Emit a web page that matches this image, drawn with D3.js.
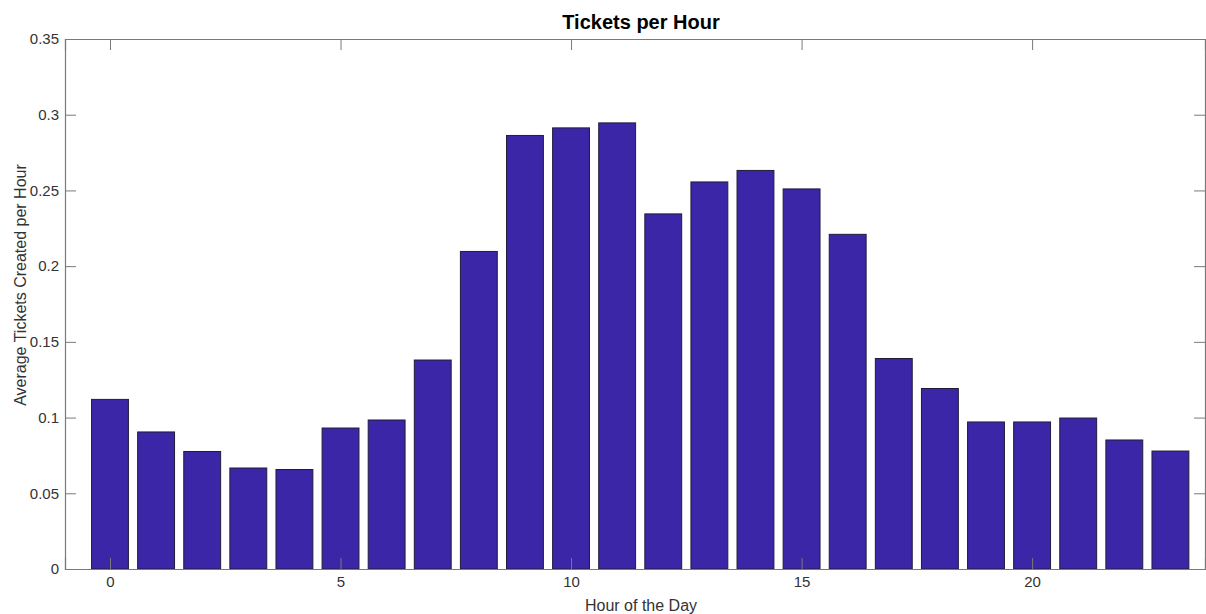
<!DOCTYPE html>
<html>
<head>
<meta charset="utf-8">
<script src="https://cdn.jsdelivr.net/npm/d3@7"></script>
<style>
  body { margin: 0; background: #fff; }
  svg text { font-family: "Liberation Sans", Arial, Helvetica, sans-serif; }
</style>
</head>
<body>
<div id="chart"></div>
<script>
// 資料
var hours = d3.range(0, 24);
var avgTickets = [0.112, 0.0905, 0.0776, 0.0667, 0.0657, 0.0931, 0.0984, 0.138,
                  0.2097, 0.2863, 0.2913, 0.2946, 0.2345, 0.2556, 0.2632, 0.251,
                  0.221, 0.139, 0.1192, 0.0971, 0.0971, 0.0997, 0.0852, 0.0779];
var xTicks = [0, 5, 10, 15, 20];
var yTicks = [0, 0.05, 0.1, 0.15, 0.2, 0.25, 0.3, 0.35];

var W = 1206, H = 614;
var margin = { top: 39, right: 1, bottom: 45, left: 65 },
    width = W - margin.left - margin.right,
    height = H - margin.top - margin.bottom;

var svg = d3.select("#chart")
    .append("svg")
    .attr("width", W)
    .attr("height", H);

var g = svg.append("g")
    .attr("transform", "translate(" + margin.left + "," + margin.top + ")");

var x = d3.scaleLinear().domain([-0.976, 23.75]).range([0, width]);
var y = d3.scaleLinear().domain([0, 0.35]).range([height, 0]);
var barW = (x(1) - x(0)) * 0.8;

// 長條
g.selectAll(".bar")
    .data(avgTickets)
    .enter()
    .append("rect")
    .attr("class", "bar")
    .attr("x", function(d, i) { return x(hours[i]) - barW / 2; })
    .attr("y", function(d) { return y(d); })
    .attr("width", barW)
    .attr("height", function(d) { return height - y(d); })
    .style("fill", "#3b26a7")
    .style("stroke", "#1e1e3a")
    .style("stroke-width", 1);

var axisColor = "#7a7a7a";
var tickLen = 11;

// 軸（四邊，刻度朝內）
var xb = g.append("g").attr("transform", "translate(0," + height + ")")
    .call(d3.axisBottom(x).tickValues(xTicks).tickSize(-tickLen).tickPadding(7).tickFormat(d3.format("d")));
var xt = g.append("g")
    .call(d3.axisTop(x).tickValues(xTicks).tickSize(-tickLen).tickFormat(""));
var yl = g.append("g")
    .call(d3.axisLeft(y).tickValues(yTicks).tickSize(-tickLen).tickPadding(6).tickFormat(function(d) { return d3.format("")(+d.toFixed(2)); }));
var yr = g.append("g").attr("transform", "translate(" + width + ",0)")
    .call(d3.axisRight(y).tickValues(yTicks).tickSize(-tickLen).tickFormat(""));

[xb, xt, yl, yr].forEach(function(a) {
    a.select(".domain").attr("stroke", axisColor).attr("stroke-width", 1.2);
    a.selectAll(".tick line").attr("stroke", axisColor);
    a.selectAll(".tick text").attr("fill", "#333").style("font-size", "15px");
});

// 標題與軸標籤
svg.append("text")
    .attr("x", 641)
    .attr("y", 29)
    .attr("text-anchor", "middle")
    .style("font-size", "20px")
    .style("font-weight", "bold")
    .attr("fill", "#000")
    .text("Tickets per Hour");

svg.append("text")
    .attr("x", 641)
    .attr("y", 611)
    .attr("text-anchor", "middle")
    .style("font-size", "16px")
    .attr("fill", "#333")
    .text("Hour of the Day");

svg.append("text")
    .attr("transform", "translate(26,285) rotate(-90)")
    .attr("text-anchor", "middle")
    .style("font-size", "16px")
    .attr("fill", "#333")
    .text("Average Tickets Created per Hour");
</script>
</body>
</html>
